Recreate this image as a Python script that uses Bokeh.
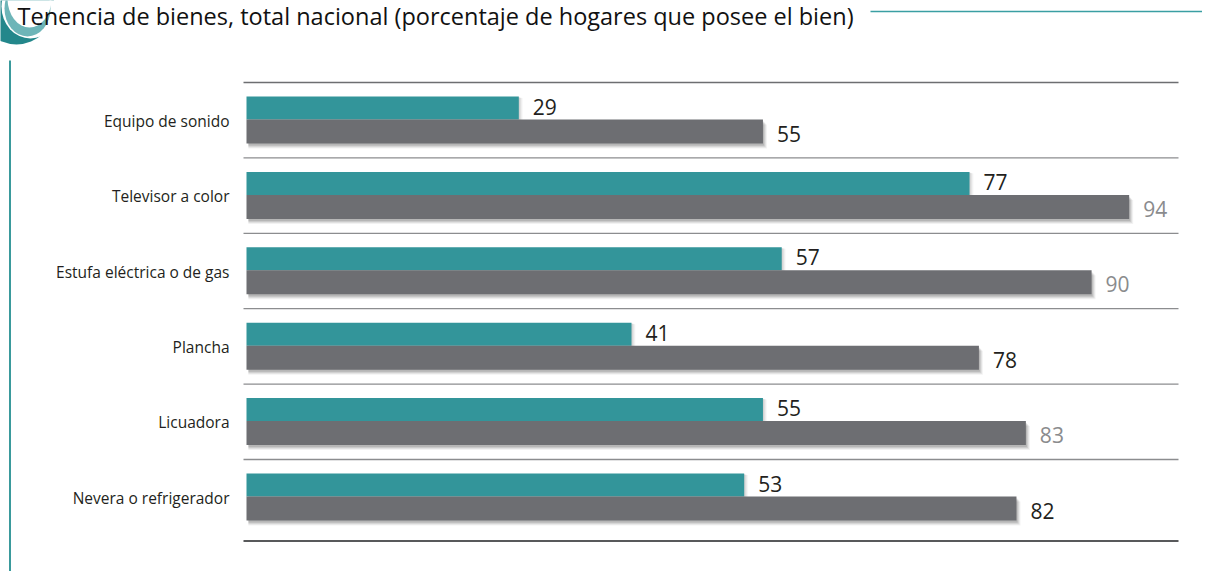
from bokeh.plotting import figure
from bokeh.models import Range1d, ColumnDataSource
from bokeh.core.properties import value
from bokeh.embed import file_html
from bokeh.resources import INLINE

title = "Tenencia de bienes, total nacional (porcentaje de hogares que posee el bien)"
categories = ["Equipo de sonido", "Televisor a color", "Estufa eléctrica o de gas",
              "Plancha", "Licuadora", "Nevera o refrigerador"]
serie_a = [29, 77, 57, 41, 55, 53]   # barras verde azulado
serie_b = [55, 94, 90, 78, 83, 82]   # barras grises

# style
TEAL = "#33959a"
GRAY = "#6d6e72"
LIGHT_TEAL = "#6db5b8"
DARK_TEAL = "#23878b"
FONT = "Open Sans"
label_col_a = ["#231f20"] * 6
label_col_b = ["#231f20", "#8a8b8d", "#8a8b8d", "#231f20", "#8a8b8d", "#231f20"]

W, H = 1202, 571
ZERO_PX = 246.0      # pixel position of value 0
K = 9.39             # pixels per percentage point
X0 = -ZERO_PX / K
X1 = X0 + W / K

p = figure(width=W, height=H, output_backend="svg", toolbar_location=None,
           x_range=Range1d(X0, X1), y_range=Range1d(H, 0),
           x_axis_location=None, y_axis_location=None, min_border=0,
           outline_line_color=None, background_fill_color="white",
           border_fill_color="white")
p.extra_x_ranges = {"px": Range1d(0, W)}
p.grid.visible = False

PITCH = 75.4
ya = [107.5 + i * PITCH for i in range(len(categories))]
yb = [131.0 + i * PITCH for i in range(len(categories))]

src = ColumnDataSource(dict(cat=categories, a=serie_a, b=serie_b, ya=ya, yb=yb,
                            ca=label_col_a, cb=label_col_b,
                            la=[str(v) for v in serie_a], lb=[str(v) for v in serie_b],
                            ycat=[(y1 + y2) / 2 + 1 for y1, y2 in zip(ya, yb)]))

# separators
for i in range(6):
    y = 82 + i * PITCH
    p.line(x=[243, 1178], y=[y, y], x_range_name="px",
           line_color="#6d6e71" if i == 0 else "#8c8d8f", line_width=1.3)
p.line(x=[243, 1178], y=[540.5, 540.5], x_range_name="px", line_color="#58595b", line_width=2)

# soft shadows
for dx, dy, al in [(4, 5, 0.05), (3, 4, 0.07), (2, 3, 0.09), (1, 2, 0.1)]:
    off = dx / K
    p.hbar(y=[v + dy for v in yb], left=0.2, right=[v + off for v in serie_b], height=24,
           fill_color="#000000", fill_alpha=al, line_color=None)
    p.hbar(y=[v + dy * 0.3 for v in ya], left=0.2, right=[v + off for v in serie_a], height=23,
           fill_color="#000000", fill_alpha=al * 0.6, line_color=None)

p.hbar(y="ya", left=0, right="a", height=23, source=src, fill_color=TEAL, line_color=None)
p.hbar(y="yb", left=0, right="b", height=24, source=src, fill_color=GRAY, line_color=None)

p.text(x="a", y="ya", text="la", source=src, x_offset=14, y_offset=-1.5,
       text_font=value(FONT), text_font_size="21px", text_color="ca",
       text_baseline="middle", text_align="left")
p.text(x="b", y="yb", text="lb", source=src, x_offset=14, y_offset=2,
       text_font=value(FONT), text_font_size="21px", text_color="cb",
       text_baseline="middle", text_align="left")

# category labels
p.text(x=0, y="ycat", text="cat", source=src, x_offset=-17,
       text_font=value(FONT), text_font_size="15.5px", text_color="#231f20",
       text_baseline="middle", text_align="right")

# left rule
p.line(x=[9.5, 9.5], y=[60, H], x_range_name="px", line_color="#3a9a9c", line_width=2)

# corner emblem
p.circle(x=[16], y=[6], radius=38, x_range_name="px", fill_color=DARK_TEAL, line_color=None)
p.ellipse(x=[30], y=[6], width=58, height=64, x_range_name="px", fill_color="white", line_color=None)
p.ellipse(x=[27], y=[8], width=46, height=56, x_range_name="px", fill_color=LIGHT_TEAL, line_color=None)
p.ellipse(x=[29], y=[-2], width=44, height=58, x_range_name="px", fill_color="white", line_color=None)

# title and rule
p.text(x=[17], y=[15], text=[title], x_range_name="px",
       text_font=value(FONT), text_font_size="23.5px", text_color="#111111",
       text_baseline="alphabetic", text_align="left")
p.line(x=[870, W], y=[11, 11], x_range_name="px", line_color="#3a9fa3", line_width=1.5)

open("out.html", "w").write(file_html(p, INLINE))
